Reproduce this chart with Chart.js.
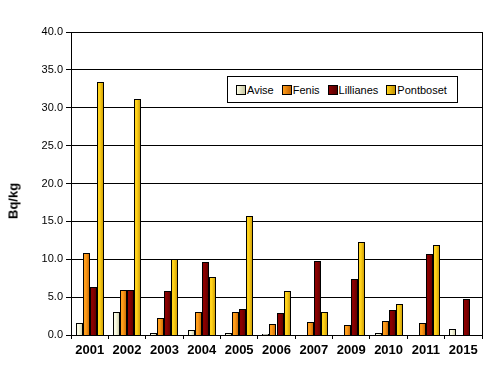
<!DOCTYPE html>
<html>
<head>
<meta charset="utf-8">
<script src="https://cdn.jsdelivr.net/npm/chart.js@4"></script>
<style>
  body { margin: 0; background: #fff; }
  #wrap { position: relative; width: 492px; height: 379px; }
  #legend {
    position: absolute; left: 227px; top: 76px; width: 231px; height: 27px;
    border: 1px solid #000; background: #fff; box-sizing: border-box;
    font: 11px Arial, "Liberation Sans", sans-serif; color: #000;
    display: flex; align-items: center; padding-left: 8px;
  }
  #legend span.item { display: flex; align-items: center; margin-right: 8px; }
  #legend span.box { width: 8px; height: 8px; border: 1px solid #000; margin-right: 1px; }
  #ytitle {
    position: absolute; left: 13px; top: 201px;
    transform: translate(-50%, -50%) rotate(-90deg);
    font: bold 13px Arial, "Liberation Sans", sans-serif; color: #000; white-space: nowrap;
  }
</style>
</head>
<body>
<div id="wrap">
  <canvas id="myChart" width="492" height="379"></canvas>
  <div id="legend"></div>
  <div id="ytitle">Bq/kg</div>
</div>
<script>
let years = ["2001", "2002", "2003", "2004", "2005", "2006", "2007", "2009", "2010", "2011", "2015"];
let avise = [1.6, 3.0, 0.2, 0.7, 0.2, 0.1, 0, 0, 0.2, 0, 0.8];
let fenis = [10.8, 6.0, 2.2, 3.0, 3.1, 1.5, 1.7, 1.3, 1.8, 1.6, 0];
let lillianes = [6.3, 5.9, 5.8, 9.6, 3.4, 2.9, 9.8, 7.4, 3.3, 10.7, 4.7];
let pontboset = [33.4, 31.1, 10.0, 7.6, 15.7, 5.8, 3.1, 12.3, 4.1, 11.9, 0];
let yTicks = [0, 5, 10, 15, 20, 25, 30, 35, 40];

// couleurs gauche -> droite (dégradé Excel)
let colors = {
    Avise: ['#fbfbe4', '#c9c8a2'],
    Fenis: ['#ff9d1a', '#c26200'],
    Lillianes: ['#8a0000', '#560000'],
    Pontboset: ['#ffd21a', '#c39200']
};

function makeDataset(label, values) {
    return {
        label: label,
        data: values,
        backgroundColor: colors[label][0],
        borderColor: '#000',
        borderWidth: 1,
        borderSkipped: 'bottom'
    };
}

// dégradé horizontal sur chaque barre + alignement sur les pixels pour des bords nets
let barGradients = {
    id: 'barGradients',
    beforeDatasetsDraw(chart) {
        let c = chart.ctx;
        chart.data.datasets.forEach((ds, i) => {
            let meta = chart.getDatasetMeta(i);
            meta.data.forEach(bar => {
                let w = Math.round(bar.width);
                let left = Math.round(bar.x - bar.width / 2);
                bar.width = w;
                bar.x = left + w / 2;
                bar.y = Math.round(bar.y);
                bar.base = Math.round(bar.base);
                let g = c.createLinearGradient(left, 0, left + w, 0);
                g.addColorStop(0, colors[ds.label][0]);
                g.addColorStop(0.4, colors[ds.label][0]);
                g.addColorStop(1, colors[ds.label][1]);
                bar.options = Object.assign({}, bar.options, { backgroundColor: g });
            });
        });
    }
};

let frame = {
    id: 'frame',
    afterDraw(chart) {
        let a = chart.chartArea;
        let c = chart.ctx;
        c.save();
        c.strokeStyle = '#000';
        c.lineWidth = 1;
        c.strokeRect(Math.round(a.left) + 0.5, Math.round(a.top) + 0.5, Math.round(a.right - a.left), Math.round(a.bottom - a.top));
        c.restore();
    }
};

let ctx = document.getElementById('myChart').getContext('2d');
let chart = new Chart(ctx, {
    type: 'bar',
    data: {
        labels: years,
        datasets: [
            makeDataset('Avise', avise),
            makeDataset('Fenis', fenis),
            makeDataset('Lillianes', lillianes),
            makeDataset('Pontboset', pontboset)
        ]
    },
    options: {
        responsive: false,
        animation: false,
        layout: { padding: { top: 32, right: 10, bottom: 0, left: 0 } },
        datasets: { bar: { categoryPercentage: 0.75, barPercentage: 1.0 } },
        plugins: { legend: { display: false }, tooltip: { enabled: false } },
        scales: {
            x: {
                afterFit: s => { s.height = 44; },
                grid: { drawOnChartArea: false, drawTicks: true, tickLength: 4, color: '#000', offset: true },
                border: { color: '#000' },
                ticks: { color: '#000', padding: 4, font: { family: 'Arial', size: 13, weight: 'bold' } }
            },
            y: {
                min: 0, max: 40,
                afterFit: s => { s.width = 71; },
                afterBuildTicks: s => { s.ticks = yTicks.map(v => ({ value: v })); },
                grid: { color: '#000', tickLength: 5 },
                border: { color: '#000' },
                ticks: {
                    color: '#000', padding: 3,
                    font: { family: 'Arial', size: 11 },
                    callback: v => v.toFixed(1)
                }
            }
        }
    },
    plugins: [barGradients, frame]
});

// légende html
let legend = document.getElementById('legend');
chart.data.datasets.forEach(ds => {
    let item = document.createElement('span');
    item.className = 'item';
    let box = document.createElement('span');
    box.className = 'box';
    box.style.background = 'linear-gradient(to right, ' + colors[ds.label][0] + ', ' + colors[ds.label][1] + ')';
    item.appendChild(box);
    item.appendChild(document.createTextNode(ds.label));
    legend.appendChild(item);
});
</script>
</body>
</html>
